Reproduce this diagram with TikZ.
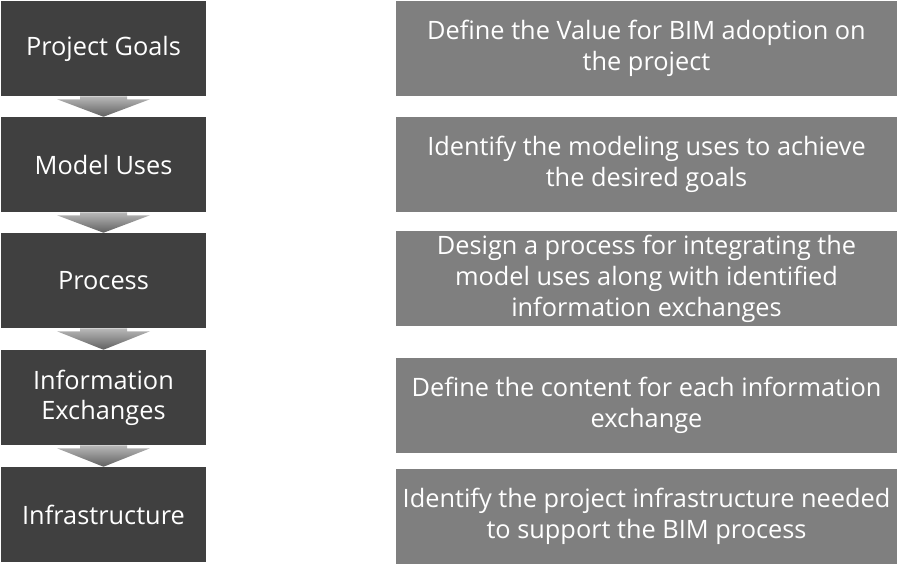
\documentclass[tikz,border=0pt]{standalone}
\usepackage{fontspec}
\setmainfont{Open Sans}
\usetikzlibrary{calc}
\definecolor{stagedark}{HTML}{404040}
\definecolor{taskgray}{HTML}{7F7F7F}
\begin{document}
\begin{tikzpicture}[x=0.75pt, y=-0.75pt,
  stage/.style={fill=stagedark, text=white, align=center, inner sep=0pt,
    minimum width=153.75pt, minimum height=71.25pt,
    font=\fontsize{19}{22.5}\selectfont},
  task/.style={fill=taskgray, text=white, align=center, inner sep=0pt,
    minimum width=375.75pt, minimum height=71.25pt,
    font=\fontsize{19}{23.25}\selectfont},
  flow/.style={top color=gray!55, bottom color=gray!75!black}]
\useasboundingbox (0,0) rectangle (912,564);

% steps on the left
\node[stage] (s1) at (103.5,48.5) {Project Goals};
\node[stage] (s2) at (103.5,164.5) {Model Uses};
\node[stage] (s3) at (103.5,280.5) {Process};
\node[stage] (s4) at (103.5,397.5) {Information\\Exchanges};
\node[stage] (s5) at (103.5,514.5) {Infrastructure};

% what each step means
\node[task] (t1) at (646.5,48.5) {Define the Value for BIM adoption on\\the project};
\node[task] (t2) at (646.5,164.5) {Identify the modeling uses to achieve\\the desired goals};
\node[task] (t3) at (646.5,278.5) {Design a process for integrating the\\model uses along with identified\\information exchanges};
\node[task] (t4) at (646.5,405) {Define the content for each information\\exchange};
\node[task] (t5) at (646.5,516) {Identify the project infrastructure needed\\to support the BIM process};

% block arrows
\foreach \a/\b in {s1/s2, s2/s3, s3/s4, s4/s5}
  \path[flow] ($(\a.south)+(-23.5,0)$) -- ($(\a.south)+(-23.5,3)$)
    -- ($(\a.south)+(-46.5,3)$) -- (\b.north) -- ($(\a.south)+(46.5,3)$)
    -- ($(\a.south)+(23.5,3)$) -- ($(\a.south)+(23.5,0)$) -- cycle;
\end{tikzpicture}
\end{document}
